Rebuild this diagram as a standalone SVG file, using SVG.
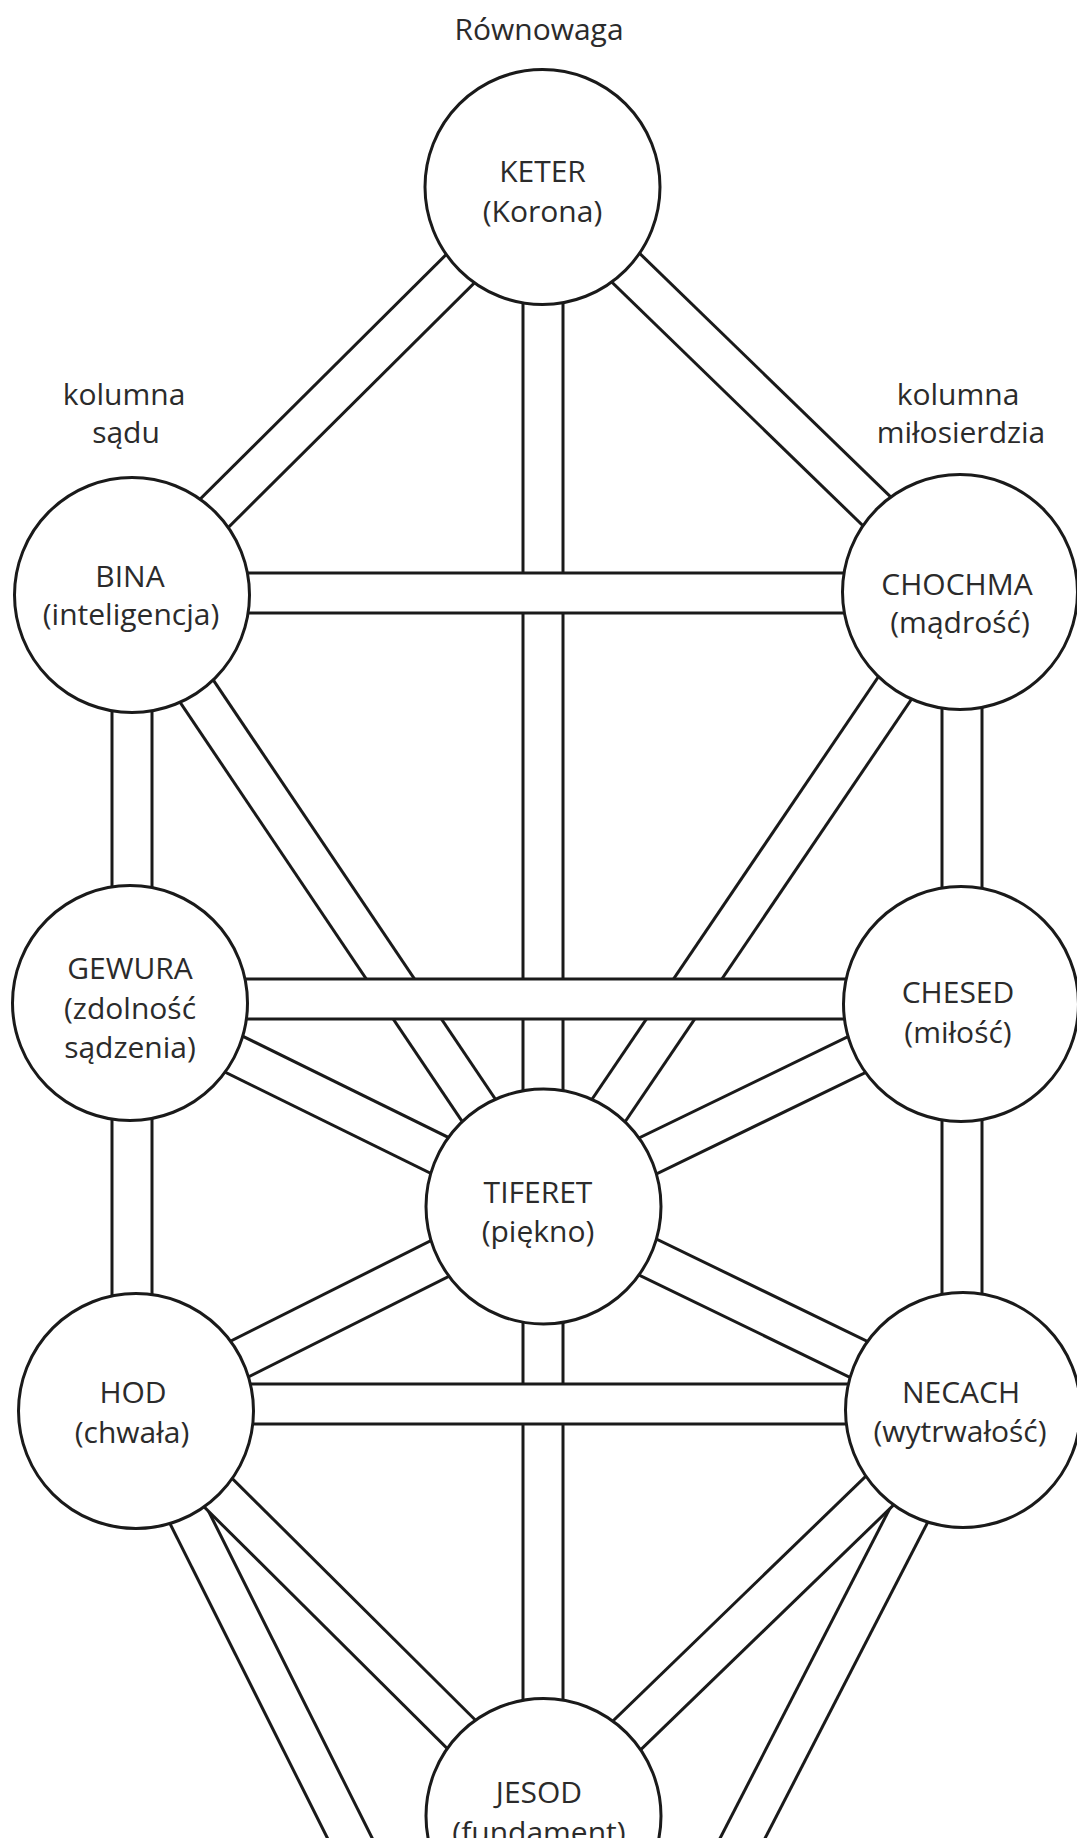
<svg xmlns="http://www.w3.org/2000/svg" width="1077" height="1838" viewBox="0 0 1077 1838">
<style>
.o{stroke:#1a1a1a;stroke-width:43;fill:none}
.i{stroke:#fff;stroke-width:37;fill:none}
.n{fill:#fff;stroke:#1a1a1a;stroke-width:3}
text{font-family:"Open Sans","Noto Sans",sans-serif;font-size:30px;fill:#2b2b2b;text-anchor:middle}
</style>
<rect width="1077" height="1838" fill="#fff"/>
<g id="labels">
<text x="539" y="40">Równowaga</text>
<text x="124" y="405">kolumna</text>
<text x="126" y="443">sądu</text>
<text x="958" y="405">kolumna</text>
<text x="961" y="443">miłosierdzia</text>
</g>
<g id="connectors">
<g><line class="o" x1="543" y1="187" x2="543" y2="1206"/><line class="i" x1="543" y1="187" x2="543" y2="1206"/></g>
<g><line class="o" x1="543" y1="1206" x2="543" y2="1816"/><line class="i" x1="543" y1="1206" x2="543" y2="1816"/></g>
<g><line class="o" x1="132" y1="595" x2="132" y2="1003"/><line class="i" x1="132" y1="595" x2="132" y2="1003"/></g>
<g><line class="o" x1="132" y1="1003" x2="132" y2="1411"/><line class="i" x1="132" y1="1003" x2="132" y2="1411"/></g>
<g><line class="o" x1="962" y1="592" x2="962" y2="1004"/><line class="i" x1="962" y1="592" x2="962" y2="1004"/></g>
<g><line class="o" x1="962" y1="1004" x2="962" y2="1410"/><line class="i" x1="962" y1="1004" x2="962" y2="1410"/></g>
<g><line class="o" x1="542.5" y1="187" x2="132" y2="595"/><line class="i" x1="542.5" y1="187" x2="132" y2="595"/></g>
<g><line class="o" x1="542.5" y1="187" x2="960" y2="592"/><line class="i" x1="542.5" y1="187" x2="960" y2="592"/></g>
<g><line class="o" x1="132" y1="595" x2="543.5" y2="1206.5"/><line class="i" x1="132" y1="595" x2="543.5" y2="1206.5"/></g>
<g><line class="o" x1="960" y1="592" x2="543.5" y2="1206.5"/><line class="i" x1="960" y1="592" x2="543.5" y2="1206.5"/></g>
<g><line class="o" x1="130" y1="1003" x2="543.5" y2="1206.5"/><line class="i" x1="130" y1="1003" x2="543.5" y2="1206.5"/></g>
<g><line class="o" x1="961" y1="1004" x2="543.5" y2="1206.5"/><line class="i" x1="961" y1="1004" x2="543.5" y2="1206.5"/></g>
<g><line class="o" x1="136" y1="1411" x2="543.5" y2="1206.5"/><line class="i" x1="136" y1="1411" x2="543.5" y2="1206.5"/></g>
<g><line class="o" x1="963" y1="1410" x2="543.5" y2="1206.5"/><line class="i" x1="963" y1="1410" x2="543.5" y2="1206.5"/></g>
<g><line class="o" x1="136" y1="1411" x2="543.5" y2="2225"/><line class="i" x1="136" y1="1411" x2="543.5" y2="2225"/></g>
<g><line class="o" x1="963" y1="1410" x2="543.5" y2="2225"/><line class="i" x1="963" y1="1410" x2="543.5" y2="2225"/></g>
<g><line class="o" x1="136" y1="1411" x2="543.5" y2="1816"/><line class="i" x1="136" y1="1411" x2="543.5" y2="1816"/></g>
<g><line class="o" x1="963" y1="1410" x2="543.5" y2="1816"/><line class="i" x1="963" y1="1410" x2="543.5" y2="1816"/></g>
<g><line class="o" x1="132" y1="593" x2="960" y2="593"/><line class="i" x1="132" y1="593" x2="960" y2="593"/></g>
<g><line class="o" x1="130" y1="999" x2="961" y2="999"/><line class="i" x1="130" y1="999" x2="961" y2="999"/></g>
<g><line class="o" x1="136" y1="1404" x2="963" y2="1404"/><line class="i" x1="136" y1="1404" x2="963" y2="1404"/></g>
</g>
<g id="keter"><circle class="n" cx="542.5" cy="187" r="117.5"/><text x="542.5" y="182">KETER</text><text x="542.5" y="222">(Korona)</text></g>
<g id="bina"><circle class="n" cx="132" cy="595" r="117.5"/><text x="130" y="587">BINA</text><text x="131" y="625">(inteligencja)</text></g>
<g id="chochma"><circle class="n" cx="960" cy="592" r="117.5"/><text x="957" y="595">CHOCHMA</text><text x="960" y="633">(mądrość)</text></g>
<g id="gewura"><circle class="n" cx="130" cy="1003" r="117.5"/><text x="130" y="979">GEWURA</text><text x="130" y="1019">(zdolność</text><text x="130" y="1058">sądzenia)</text></g>
<g id="chesed"><circle class="n" cx="961" cy="1004" r="117.5"/><text x="958" y="1003">CHESED</text><text x="958" y="1043">(miłość)</text></g>
<g id="tiferet"><circle class="n" cx="543.5" cy="1206.5" r="117.5"/><text x="538" y="1203">TIFERET</text><text x="538" y="1242">(piękno)</text></g>
<g id="hod"><circle class="n" cx="136" cy="1411" r="117.5"/><text x="133" y="1403">HOD</text><text x="132" y="1443">(chwała)</text></g>
<g id="necach"><circle class="n" cx="963" cy="1410" r="117.5"/><text x="961" y="1403">NECACH</text><text x="960" y="1442">(wytrwałość)</text></g>
<g id="jesod"><circle class="n" cx="543.5" cy="1816" r="117.5"/><text x="539" y="1803">JESOD</text><text x="539" y="1843">(fundament)</text></g>
</svg>
